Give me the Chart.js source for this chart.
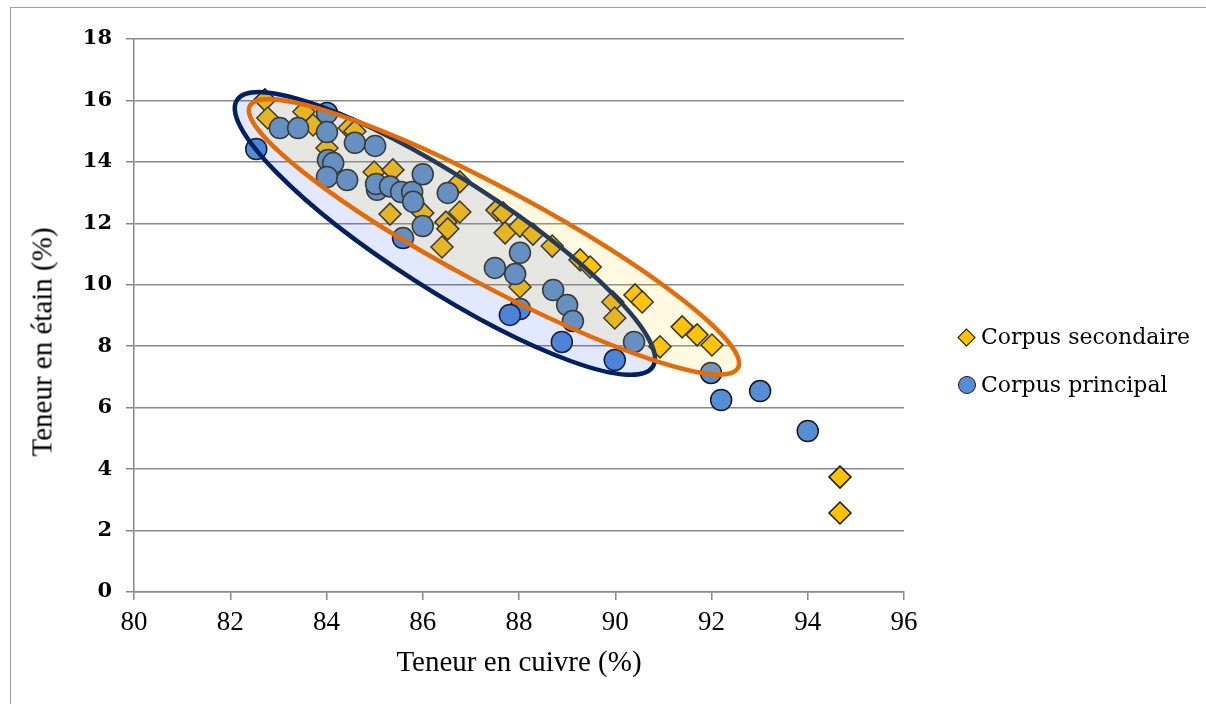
<!DOCTYPE html>
<html>
<head>
<meta charset="utf-8">
<script src="https://cdn.jsdelivr.net/npm/chart.js@4.4.0/dist/chart.umd.min.js"></script>
<style>
  html, body { margin: 0; padding: 0; background: #fff; }
  #wrap { position: relative; width: 1206px; height: 704px; overflow: hidden; }
  #frame { position: absolute; left: 10px; top: 7px; width: 1400px; height: 900px; border: 1.5px solid #a0a0a0; box-sizing: border-box; }
  #c { position: absolute; left: 0; top: 0; }
  #ytitle { position: absolute; left: 42px; top: 342px; transform: translate(-50%, -50%) rotate(-90deg); font-family: "Liberation Serif", serif; font-size: 29px; color: #000; white-space: nowrap; }
  #legend { position: absolute; left: 957px; top: 320px; font-family: "DejaVu Serif", serif; font-size: 22px; color: #000; }
  .item { position: relative; height: 48px; line-height: 34px; padding-left: 24px; white-space: nowrap; }
  .diamond { position: absolute; left: 3px; top: 11px; width: 11px; height: 11px; background: #ffc000; border: 1.5px solid #1a1a1a; transform: rotate(45deg); }
  .circle { position: absolute; left: 1px; top: 8px; width: 16px; height: 16px; border-radius: 50%; background: #558ed5; border: 1.5px solid #1a1a1a; }
</style>
</head>
<body>
<div id="wrap">
  <div id="frame"></div>
  <canvas id="c" width="1206" height="704"></canvas>
  <div id="ytitle">Teneur en étain (%)</div>
  <div id="legend">
    <div class="item"><span class="diamond"></span>Corpus secondaire</div>
    <div class="item"><span class="circle"></span>Corpus principal</div>
  </div>
</div>
<script>
// Corpus secondaire (losanges)
const secondaireCu = [82.72, 82.78, 83.53, 83.72, 84.01, 84.47, 84.59, 84.99, 85.38, 85.32, 86.0, 86.4, 86.77, 86.77, 86.48, 86.52, 87.54, 87.67, 87.71, 88.02, 88.29, 88.69, 89.27, 89.48, 88.02, 89.95, 90.41, 90.56, 89.99, 90.93, 91.39, 91.7, 92.01, 94.67, 94.67];
const secondaireSn = [16.02, 15.43, 15.63, 15.2, 14.45, 15.1, 15.0, 13.67, 13.74, 12.3, 12.34, 11.23, 13.35, 12.37, 12.04, 11.82, 12.43, 12.34, 11.69, 11.91, 11.65, 11.26, 10.81, 10.58, 9.93, 9.44, 9.67, 9.44, 8.92, 7.98, 8.63, 8.37, 8.04, 3.74, 2.57];

// Corpus principal (cercles)
const principalCu = [82.54, 83.03, 83.41, 84.01, 84.01, 84.59, 85.01, 84.03, 84.14, 84.01, 84.43, 85.05, 85.03, 85.32, 85.55, 85.78, 85.8, 86.0, 86.0, 85.59, 86.52, 87.5, 87.92, 88.02, 88.02, 87.81, 88.71, 89.0, 89.12, 88.89, 89.99, 90.39, 91.99, 92.2, 93.01, 94.0];
const principalSn = [14.42, 15.1, 15.1, 15.59, 14.97, 14.62, 14.52, 14.06, 13.96, 13.51, 13.41, 13.09, 13.28, 13.2, 13.02, 13.02, 12.7, 13.6, 11.91, 11.52, 12.99, 10.55, 10.35, 11.04, 9.21, 9.02, 9.83, 9.34, 8.82, 8.14, 7.55, 8.14, 7.13, 6.25, 6.54, 5.24];

// Ellipses de regroupement : centre, extremite du grand axe, extremite du petit axe (valeurs Cu/Sn)
const zonePrincipal = [[86.46, 11.67], [90.78, 7.33], [87.09, 13.20]];
const zoneSecondaire = [[87.48, 11.56], [92.55, 7.29], [87.96, 12.92]];

const xMin = 80, xMax = 96, xStep = 2;
const yMin = 0, yMax = 18, yStep = 2;

const toPoints = (xs, ys) => xs.map((v, i) => ({x: v, y: ys[i]}));

const ellipses = {
    id: 'ellipses',
    afterDatasetsDraw(chart) {
        const {ctx, scales: {x, y}} = chart;
        const zones = [
            {pts: zonePrincipal, fill: 'rgba(5, 63, 255, 0.12)', stroke: '#002060'},
            {pts: zoneSecondaire, fill: 'rgba(255, 215, 55, 0.15)', stroke: '#e36c0a'}
        ];
        zones.forEach(z => {
            const p = z.pts.map(q => [x.getPixelForValue(q[0]), y.getPixelForValue(q[1])]);
            const [c, a, b] = p;
            ctx.save();
            const t = ctx.getTransform();
            ctx.beginPath();
            ctx.transform(a[0] - c[0], a[1] - c[1], b[0] - c[0], b[1] - c[1], c[0], c[1]);
            ctx.arc(0, 0, 1, 0, Math.PI * 2);
            ctx.setTransform(t);
            ctx.fillStyle = z.fill;
            ctx.fill();
            ctx.lineWidth = 4.5;
            ctx.strokeStyle = z.stroke;
            ctx.stroke();
            ctx.restore();
        });
    }
};

const ctx = document.getElementById('c').getContext('2d');
new Chart(ctx, {
    type: 'scatter',
    data: {
        datasets: [{
            label: 'Corpus secondaire',
            data: toPoints(secondaireCu, secondaireSn),
            pointStyle: 'rectRot',
            pointRadius: 11,
            backgroundColor: '#ffc000',
            borderColor: '#1a1a1a',
            borderWidth: 1.5,
            order: 1
        }, {
            label: 'Corpus principal',
            data: toPoints(principalCu, principalSn),
            pointStyle: 'circle',
            pointRadius: 10.5,
            backgroundColor: '#558ed5',
            borderColor: '#1a1a1a',
            borderWidth: 1.5,
            order: 0
        }]
    },
    options: {
        responsive: false,
        animation: false,
        layout: { padding: { left: 10, top: 39, right: 302, bottom: 0 } },
        plugins: {
            legend: { display: false },
            tooltip: { enabled: false }
        },
        scales: {
            x: {
                type: 'linear',
                min: xMin, max: xMax,
                ticks: { stepSize: xStep, color: '#000', padding: 7, font: { family: 'Liberation Serif', size: 27 } },
                grid: { drawOnChartArea: false, drawTicks: true, tickLength: 8, color: '#888', lineWidth: 1.5 },
                border: { color: '#888', width: 1.5 },
                title: { display: true, text: 'Teneur en cuivre (%)', color: '#000', padding: { bottom: 23 }, font: { family: 'Liberation Serif', size: 29 } },
                afterFit(s) { s.height = 112; }
            },
            y: {
                min: yMin, max: yMax,
                ticks: { stepSize: yStep, color: '#000', padding: 14, font: { family: 'DejaVu Serif', size: 21, weight: 'bold' } },
                grid: { drawTicks: true, tickLength: 8, color: '#888', lineWidth: 1.5 },
                border: { color: '#888', width: 1.5 },
                afterFit(s) { s.width = 124; }
            }
        }
    },
    plugins: [ellipses]
});
</script>
</body>
</html>
